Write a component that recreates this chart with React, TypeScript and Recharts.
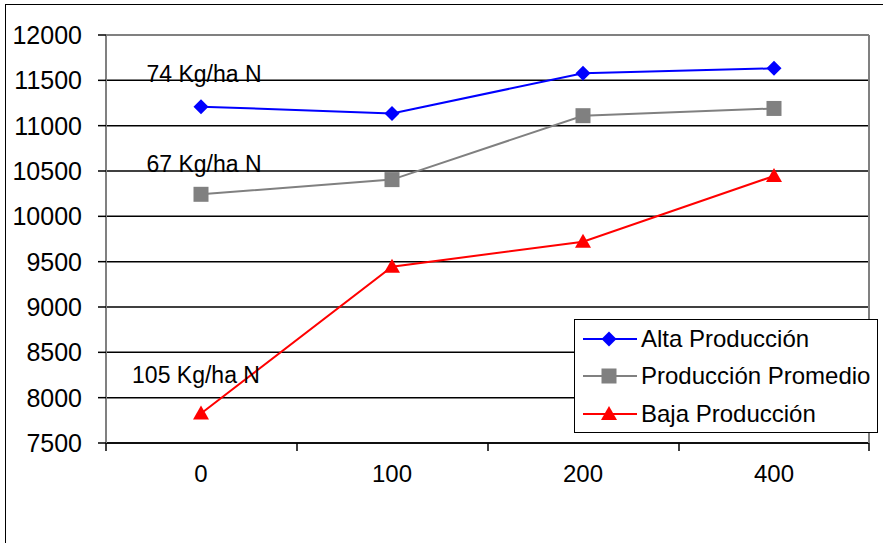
import {
  LineChart, Line, XAxis, YAxis, CartesianGrid, ReferenceLine, ReferenceDot, Legend,
} from "recharts";

const DOSES = ["0", "100", "200", "400"];
const ALTA = [11210, 11135, 11578, 11632];
const PROMEDIO = [10243, 10405, 11110, 11190];
const BAJA = [7825, 9445, 9720, 10445];
const Y_TICKS = [7500, 8000, 8500, 9000, 9500, 10000, 10500, 11000, 11500, 12000];

const NOTES = [
  { x: "0", y: 11570, text: "74 Kg/ha N", dx: 3 },
  { x: "0", y: 10577, text: "67 Kg/ha N", dx: 3 },
  { x: "0", y: 8250, text: "105 Kg/ha N", dx: -5 },
];

const FONT = '"Liberation Sans", Arial, sans-serif';
const PAD = 95;

const data = DOSES.map((d, i) => ({ dose: d, alta: ALTA[i], promedio: PROMEDIO[i], baja: BAJA[i] }));

function Diamond({ cx, cy, fill }: any) {
  if (cx == null || cy == null) return null;
  return <polygon points={`${cx},${cy - 7.5} ${cx + 7.5},${cy} ${cx},${cy + 7.5} ${cx - 7.5},${cy}`} fill={fill} />;
}

function Square({ cx, cy, fill }: any) {
  if (cx == null || cy == null) return null;
  return <rect x={cx - 7.5} y={cy - 7.5} width={15} height={15} fill={fill} />;
}

function Triangle({ cx, cy, fill }: any) {
  if (cx == null || cy == null) return null;
  return <polygon points={`${cx},${cy - 8} ${cx + 8},${cy + 6} ${cx - 8},${cy + 6}`} fill={fill} />;
}

const SERIES = [
  { key: "alta", name: "Alta Producción", color: "#0000FF", Marker: Diamond },
  { key: "promedio", name: "Producción Promedio", color: "#808080", Marker: Square },
  { key: "baja", name: "Baja Producción", color: "#FF0000", Marker: Triangle },
];

function XTick({ x, y, payload, index }: any) {
  const last = index === DOSES.length - 1;
  return (
    <g>
      <line x1={x - PAD} x2={x - PAD} y1={y} y2={y + 8} stroke="#000" strokeWidth={1.5} />
      {last && <line x1={x + PAD} x2={x + PAD} y1={y} y2={y + 8} stroke="#000" strokeWidth={1.5} />}
      <text x={x} y={y + 30} textAnchor="middle" dominantBaseline="central" fontSize={24} fill="#000" fontFamily={FONT}>
        {payload.value}
      </text>
    </g>
  );
}

function LegendBox() {
  return (
    <div style={{
      width: 304, height: 114, border: "1.5px solid #000", background: "#fff",
      fontFamily: FONT, fontSize: 24, boxSizing: "border-box",
    }}>
      {SERIES.map((s) => (
        <div key={s.key} style={{ display: "flex", alignItems: "center", height: 37.5 }}>
          <svg width={66} height={20} style={{ flex: "none" }}>
            <line x1={8} x2={62} y1={10} y2={10} stroke={s.color} strokeWidth={2} />
            <s.Marker cx={34} cy={10} fill={s.color} />
          </svg>
          <span style={{ color: "#000", whiteSpace: "nowrap" }}>{s.name}</span>
        </div>
      ))}
    </div>
  );
}

export default function App() {
  return (
    <div style={{ position: "absolute", left: 0, top: 0, width: 883, height: 543, overflow: "hidden", background: "#fff" }}>
      <div style={{
        position: "absolute", left: 5, top: 4, width: 900, height: 600,
        borderTop: "1.5px solid #000", borderLeft: "1.5px solid #000",
      }} />
      <LineChart
        width={883}
        height={543}
        data={data}
        margin={{ top: 35, right: 0, left: 0, bottom: 70 }}
        style={{ position: "absolute", left: 0, top: 0, fontFamily: FONT }}
      >
        <CartesianGrid vertical={false} horizontal={true} stroke="#000" strokeWidth={1.5} />
        <ReferenceLine y={12000} stroke="#808080" strokeWidth={2} />
        <XAxis
          dataKey="dose"
          height={30}
          padding={{ left: PAD, right: PAD }}
          tickLine={false}
          tickSize={0}
          tickMargin={0}
          axisLine={{ stroke: "#000", strokeWidth: 1.5 }}
          tick={<XTick />}
          interval={0}
        />
        <YAxis
          width={106}
          domain={[7500, 12000]}
          ticks={Y_TICKS}
          interval={0}
          tickSize={8}
          tickMargin={16}
          axisLine={{ stroke: "#808080", strokeWidth: 2 }}
          tickLine={{ stroke: "#000", strokeWidth: 1.5 }}
          tick={{ fontSize: 25, fill: "#000", fontFamily: FONT }}
        />
        <YAxis
          yAxisId="frame"
          orientation="right"
          width={14}
          domain={[7500, 12000]}
          tick={false}
          tickLine={false}
          axisLine={{ stroke: "#808080", strokeWidth: 2 }}
        />
        {NOTES.map((n) => (
          <ReferenceDot
            key={n.text}
            x={n.x}
            y={n.y}
            r={0}
            fill="none"
            stroke="none"
            label={{ value: n.text, position: "center", fontSize: 23, fill: "#000", fontFamily: FONT, dx: n.dx } as any}
          />
        ))}
        {SERIES.map((s) => (
          <Line
            key={s.key}
            type="linear"
            dataKey={s.key}
            name={s.name}
            stroke={s.color}
            strokeWidth={2}
            dot={(p: any) => <s.Marker key={`${s.key}-${p.index}`} cx={p.cx} cy={p.cy} fill={s.color} />}
            activeDot={false}
            isAnimationActive={false}
          />
        ))}
        <Legend
          layout="horizontal"
          verticalAlign="middle"
          align="center"
          content={() => <LegendBox />}
          wrapperStyle={{ left: 574, top: 319, width: 304, height: 114, margin: 0 }}
        />
      </LineChart>
    </div>
  );
}
